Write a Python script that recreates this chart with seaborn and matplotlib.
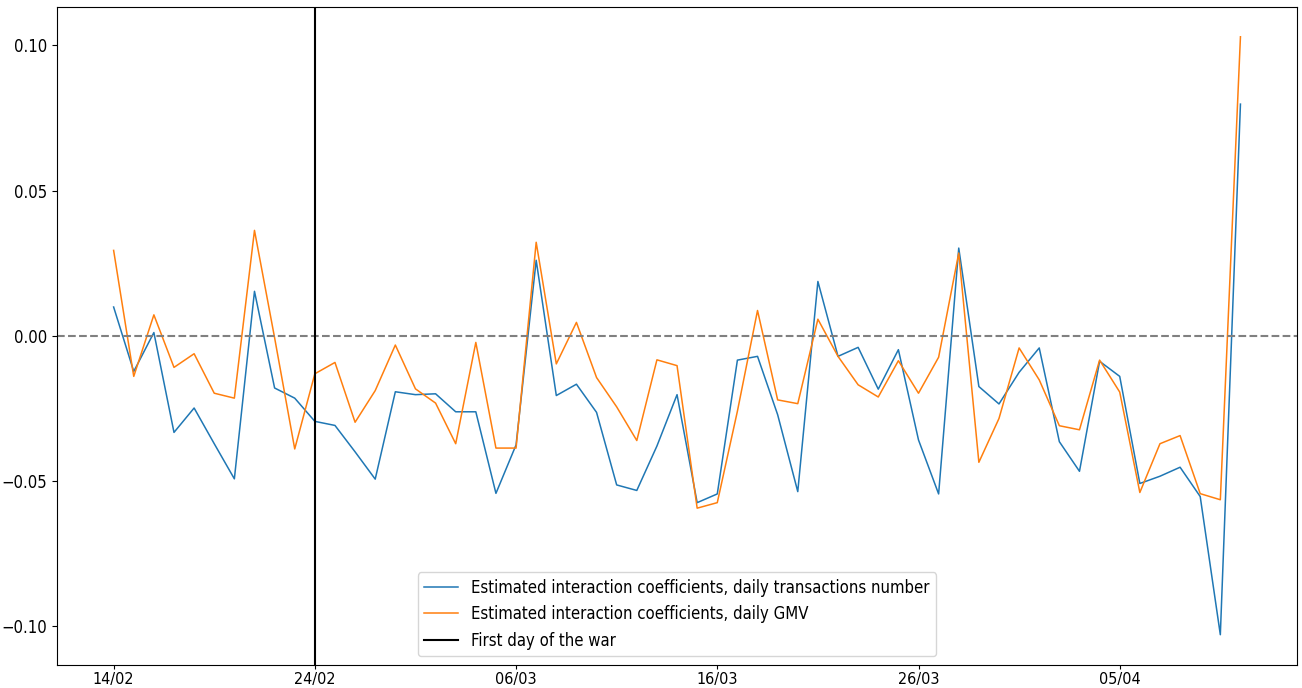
import numpy as np
import pandas as pd
import matplotlib
matplotlib.use("Agg")
import matplotlib.pyplot as plt
import matplotlib.dates as mdates
import seaborn as sns

start_date = "2022-02-14"
war_date = "2022-02-24"

trans_coef = [0.0099, -0.0123, 0.0011, -0.0333, -0.0249, -0.0372, -0.0493, 0.0153, -0.0180, -0.0215,
              -0.0295, -0.0309, -0.0400, -0.0494, -0.0193, -0.0203, -0.0200, -0.0262, -0.0262, -0.0543,
              -0.0376, 0.0260, -0.0206, -0.0167, -0.0264, -0.0514, -0.0533, -0.0380, -0.0203, -0.0575,
              -0.0545, -0.0084, -0.0071, -0.0272, -0.0537, 0.0187, -0.0071, -0.0040, -0.0184, -0.0048,
              -0.0359, -0.0545, 0.0302, -0.0175, -0.0235, -0.0126, -0.0042, -0.0365, -0.0467, -0.0088,
              -0.0140, -0.0509, -0.0484, -0.0453, -0.0554, -0.1030, 0.0798]

gmv_coef = [0.0294, -0.0140, 0.0072, -0.0109, -0.0062, -0.0198, -0.0215, 0.0363, -0.0007, -0.0390,
            -0.0131, -0.0092, -0.0298, -0.0189, -0.0032, -0.0183, -0.0232, -0.0372, -0.0023, -0.0387,
            -0.0387, 0.0322, -0.0097, 0.0046, -0.0144, -0.0245, -0.0361, -0.0083, -0.0103, -0.0594,
            -0.0575, -0.0260, 0.0087, -0.0221, -0.0234, 0.0057, -0.0071, -0.0169, -0.0211, -0.0086,
            -0.0198, -0.0074, 0.0285, -0.0436, -0.0285, -0.0042, -0.0152, -0.0310, -0.0324, -0.0084,
            -0.0194, -0.0540, -0.0372, -0.0344, -0.0544, -0.0565, 0.1030]

label_trans = "Estimated interaction coefficients, daily transactions number"
label_gmv = "Estimated interaction coefficients, daily GMV"
label_war = "First day of the war"

dates = pd.date_range(start_date, periods=len(trans_coef), freq="D")
df = pd.DataFrame({"date": dates, "trans": trans_coef, "gmv": gmv_coef})

plt.rcParams["font.family"] = ["DejaVu Sans"]
plt.rcParams["font.stretch"] = "condensed"
plt.rcParams["font.size"] = 12

fig, ax = plt.subplots(figsize=(13.02, 6.88), dpi=100)
fig.subplots_adjust(left=0.044, right=0.996, top=0.990, bottom=0.034)

sns.lineplot(data=df, x="date", y="trans", ax=ax, color="#1f77b4", lw=1.1, label=label_trans)
sns.lineplot(data=df, x="date", y="gmv", ax=ax, color="#ff7f0e", lw=1.1, label=label_gmv)
ax.axhline(0, color="grey", ls="--", lw=1.5)
ax.axvline(pd.Timestamp(war_date), color="black", lw=1.5, label=label_war)

ticks = pd.date_range(start_date, dates[-1], freq="10D")
ax.set_xticks(ticks)
ax.xaxis.set_major_formatter(mdates.DateFormatter("%d/%m"))
ax.set_yticks([-0.10, -0.05, 0.0, 0.05, 0.10])
ax.set_xlabel("")
ax.set_ylabel("")
ax.tick_params(axis="y", labelsize=12)
ax.tick_params(axis="x", labelsize=11.5, pad=2, length=3)
ax.legend(loc="lower center", fontsize=12)

fig.savefig("out.png", dpi=100)
